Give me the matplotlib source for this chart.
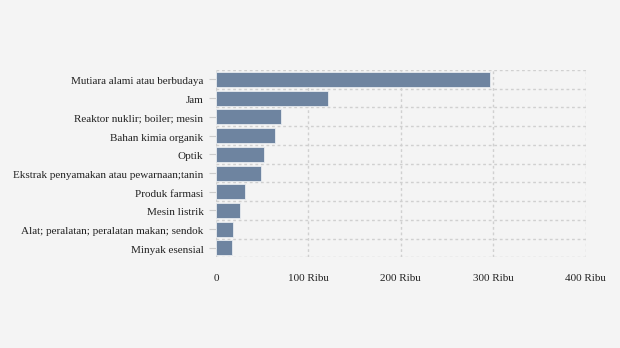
import matplotlib
matplotlib.use("Agg")
import matplotlib.pyplot as plt
import matplotlib.transforms as mtransforms
from matplotlib.ticker import FuncFormatter

categories = [
    "Mutiara alami atau berbudaya",
    "Jam",
    "Reaktor nuklir; boiler; mesin",
    "Bahan kimia organik",
    "Optik",
    "Ekstrak penyamakan atau pewarnaan;tanin",
    "Produk farmasi",
    "Mesin listrik",
    "Alat; peralatan; peralatan makan; sendok",
    "Minyak esensial",
]
values = [296500, 121000, 70300, 63900, 52000, 48700, 31000, 26000, 18400, 17300]
xticks = [0, 100000, 200000, 300000, 400000]

bg = "#f4f4f4"
bar_color = "#6e84a0"
grid_color = "#d0d0d0"

plt.rcParams['font.family'] = ['Liberation Serif', 'DejaVu Serif']

fig = plt.figure(figsize=(6.2, 3.48), dpi=100, facecolor=bg)
W, H = 620, 348
left, right, top, bottom = 216, 585.5, 70, 257.3
ax = fig.add_axes([left / W, 1 - bottom / H, (right - left) / W, (bottom - top) / H])
ax.set_facecolor(bg)

n = len(categories)
pos = list(range(n))
ax.barh(pos, values, height=0.8, color=bar_color, edgecolor="#e8ecf0", linewidth=0.6, zorder=3)
ax.set_ylim(n - 0.5, -0.5)
ax.set_xlim(0, 400000)

ax.set_yticks(pos)
ax.set_yticklabels(categories, fontsize=8, color="#222222")
ax.set_xticks(xticks)
ax.xaxis.set_major_formatter(FuncFormatter(lambda v, p: "0" if v == 0 else f"{int(v/1000)} Ribu"))
ax.tick_params(axis="x", length=0, pad=12, labelsize=8, labelcolor="#222222")
ax.tick_params(axis="y", length=5, width=0.8, color="#cccccc", pad=4)

offset = mtransforms.ScaledTranslation(0, -1.5 / 100, fig.dpi_scale_trans)
for lbl in ax.get_yticklabels():
    lbl.set_transform(lbl.get_transform() + offset)

for x in xticks:
    ax.axvline(x, color=grid_color, linestyle=(0, (2, 2)), linewidth=1, zorder=1)
for b in [i - 0.5 for i in range(n + 1)]:
    ax.axhline(b, color=grid_color, linestyle=(0, (2, 2)), linewidth=1, zorder=1)

for s in ax.spines.values():
    s.set_visible(False)

fig.savefig("out.png", dpi=100, facecolor=bg)
